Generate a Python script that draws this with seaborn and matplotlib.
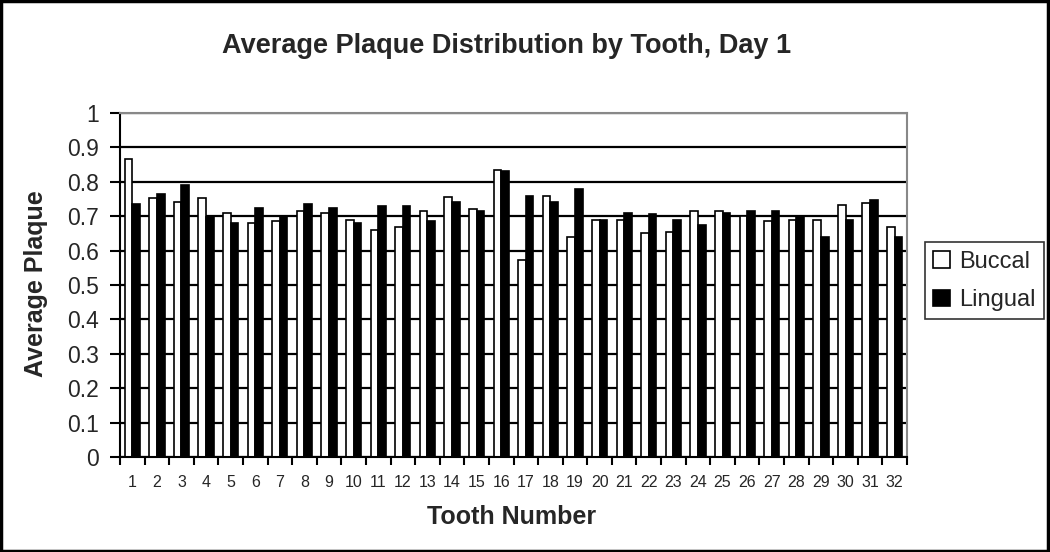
import pandas as pd
import numpy as np
import seaborn as sns
import matplotlib.pyplot as plt
from matplotlib.patches import Rectangle

teeth = [str(i) for i in range(1, 33)]
buccal = [0.865, 0.754, 0.740, 0.754, 0.710, 0.680, 0.685, 0.715, 0.710, 0.689,
          0.659, 0.669, 0.715, 0.755, 0.720, 0.835, 0.574, 0.760, 0.640, 0.688,
          0.688, 0.650, 0.654, 0.715, 0.715, 0.700, 0.685, 0.689, 0.689, 0.734,
          0.739, 0.669]
lingual = [0.735, 0.765, 0.790, 0.699, 0.680, 0.725, 0.698, 0.735, 0.725, 0.680,
           0.730, 0.730, 0.685, 0.740, 0.715, 0.831, 0.760, 0.740, 0.780, 0.689,
           0.710, 0.705, 0.689, 0.675, 0.710, 0.715, 0.715, 0.700, 0.640, 0.690,
           0.746, 0.640]

df = pd.DataFrame({
    'Tooth': teeth * 2,
    'Plaque': buccal + lingual,
    'Side': ['Buccal'] * 32 + ['Lingual'] * 32,
})

sns.set_style('white')
plt.rcParams['font.family'] = ['Liberation Sans', 'DejaVu Sans']

fig = plt.figure(figsize=(10.5, 5.52), dpi=100)
ax = fig.add_axes([0.1143, 0.1721, 0.7495, 0.6232])

ax.yaxis.grid(True, color='black', linewidth=1.6)
ax.set_axisbelow(True)
sns.barplot(data=df, x='Tooth', y='Plaque', hue='Side', order=teeth,
            palette=['white', 'black'], edgecolor='black', linewidth=1.2,
            width=0.62, ax=ax)

ax.set_ylim(0, 1)
ax.set_xlim(-0.5, 31.5)
ax.set_yticks(np.arange(0, 1.01, 0.1))
ax.set_yticklabels(['0'] + [f'{v:.1f}' for v in np.arange(0.1, 1.0, 0.1)] + ['1'], fontsize=16.5)
ax.tick_params(axis='y', direction='out', length=7, width=1.5, color='black', left=True, pad=8)
ax.tick_params(axis='x', which='major', length=0, labelsize=11.5, pad=13)
ax.set_xticks(np.arange(-0.5, 32, 1), minor=True)
ax.tick_params(axis='x', which='minor', direction='out', length=6, width=1.5, color='black', bottom=True)

for s in ['left', 'bottom']:
    ax.spines[s].set_color('black')
    ax.spines[s].set_linewidth(1.5)
for s in ['top', 'right']:
    ax.spines[s].set_color('#888888')
    ax.spines[s].set_linewidth(1.5)

ax.set_xlabel('')
ax.set_ylabel('')
fig.text(512 / 1050, 1 - 517 / 552, 'Tooth Number', fontsize=18, fontweight='bold',
         ha='center', va='center')
fig.text(36 / 1050, 1 - 284 / 552, 'Average Plaque', fontsize=18, fontweight='bold',
         ha='center', va='center', rotation=90)
fig.text(507 / 1050, 1 - 46 / 552, 'Average Plaque Distribution by Tooth, Day 1',
         fontsize=19.5, fontweight='bold', ha='center', va='center')

leg = ax.legend(loc='center left', bbox_to_anchor=(1.023, 0.512), fontsize=17,
                frameon=True, fancybox=False, edgecolor='black', handlelength=0.7,
                handleheight=0.7, labelspacing=0.7, borderpad=0.35, handletextpad=0.4,
                borderaxespad=0)
leg.get_frame().set_linewidth(1.2)

fig.patches.append(Rectangle((0.001, 0.002), 0.997, 0.996, transform=fig.transFigure,
                             fill=False, edgecolor='black', linewidth=2.5))

fig.savefig('out.png', dpi=100)
